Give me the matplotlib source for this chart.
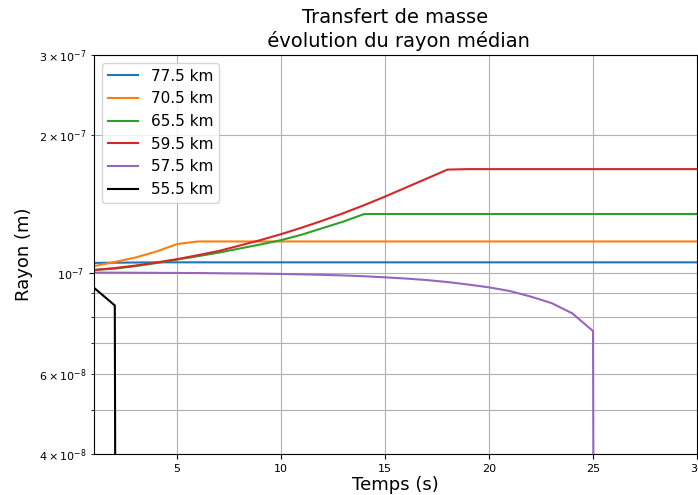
import matplotlib
matplotlib.use("Agg")
import matplotlib.pyplot as plt
import numpy as np

# temps (s)
t = np.arange(1, 31)

# rayon médian (m), une valeur par seconde
r_775 = [1.050e-7, 1.051e-7, 1.052e-7, 1.053e-7] + [1.053e-7] * 26
r_705 = [1.033e-7, 1.055e-7, 1.079e-7, 1.112e-7, 1.155e-7] + [1.170e-7] * 25
r_655 = [1.013e-7, 1.020e-7, 1.033e-7, 1.049e-7, 1.068e-7, 1.086e-7, 1.106e-7,
         1.129e-7, 1.152e-7, 1.178e-7, 1.211e-7, 1.252e-7, 1.294e-7] + [1.344e-7] * 17
r_595 = [1.013e-7, 1.023e-7, 1.036e-7, 1.052e-7, 1.070e-7, 1.092e-7, 1.115e-7,
         1.146e-7, 1.178e-7, 1.214e-7, 1.255e-7, 1.300e-7, 1.350e-7, 1.406e-7,
         1.468e-7, 1.536e-7, 1.607e-7, 1.682e-7] + [1.686e-7] * 12
r_575 = [1.000e-7, 0.9995e-7, 0.9990e-7, 0.9985e-7, 0.9980e-7, 0.9975e-7, 0.9965e-7,
         0.9955e-7, 0.9945e-7, 0.9930e-7, 0.9909e-7, 0.9885e-7, 0.9855e-7, 0.9815e-7,
         0.9760e-7, 0.9702e-7, 0.9628e-7, 0.9532e-7, 0.9412e-7, 0.9280e-7, 0.9108e-7,
         0.8858e-7, 0.8572e-7, 0.8139e-7, 0.7442e-7] + [1e-25] * 5
r_555 = [0.926e-7, 0.847e-7] + [1e-25] * 28

altitudes = ["77.5 km", "70.5 km", "65.5 km", "59.5 km", "57.5 km", "55.5 km"]
rayons = [r_775, r_705, r_655, r_595, r_575, r_555]
couleurs = ["C0", "C1", "C2", "C3", "C4", "k"]

fig = plt.figure(figsize=(6.98, 4.95), dpi=100)
ax = fig.add_axes([94 / 698, 1 - 454 / 495, 603 / 698, 399 / 495])

for r, lab, c in zip(rayons, altitudes, couleurs):
    ax.plot(t, r, color=c, label=lab, lw=1.5)

ax.set_yscale("log")
ax.set_xlim(1, 30)
ax.set_ylim(4e-8, 3e-7)
ax.grid(which="both")
ax.tick_params(which="both", labelsize=8)
ax.set_xlabel("Temps (s)", fontsize=13, labelpad=2)
ax.set_ylabel("Rayon (m)", fontsize=13)
ax.set_title("Transfert de masse\n évolution du rayon médian", fontsize=14)
ax.legend(loc="upper left", fontsize=11)

fig.savefig("out.png", dpi=100)
